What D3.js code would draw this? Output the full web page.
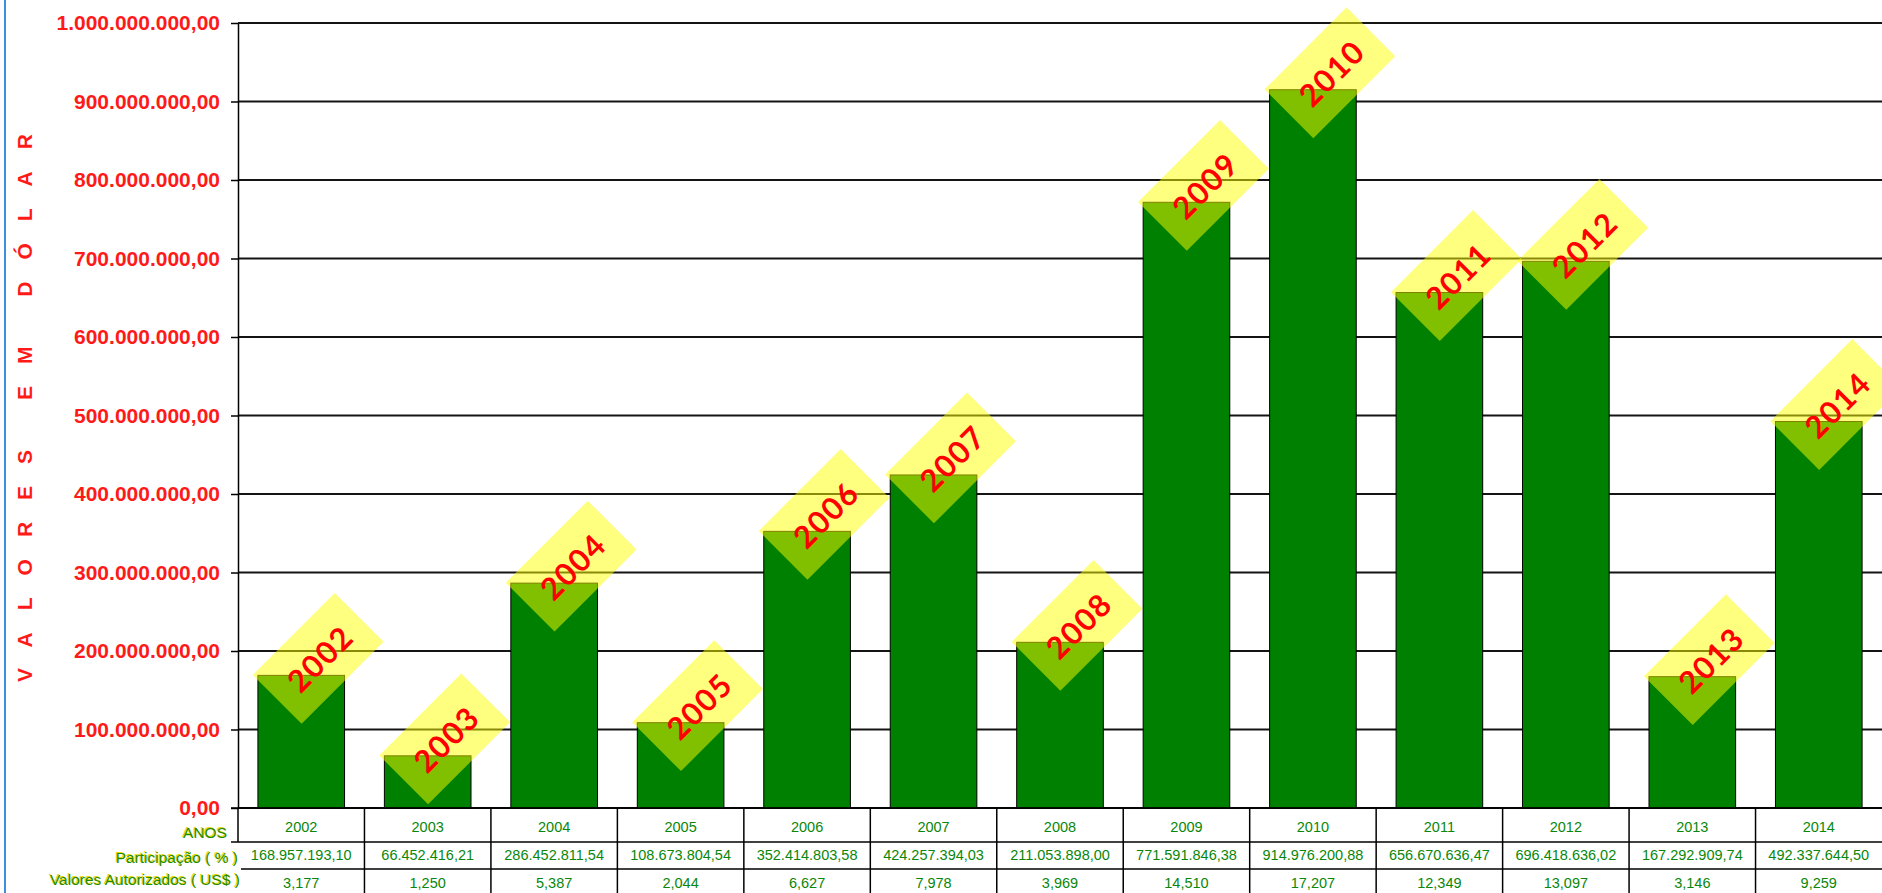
<!DOCTYPE html>
<html>
<head>
<meta charset="utf-8">
<script src="https://cdn.jsdelivr.net/npm/d3@7"></script>
<style>
  body { margin: 0; background: #fff; }
  svg { display: block; }
</style>
</head>
<body>
<div id="chart"></div>
<script>
const width = 1882, height = 893;

// dados
const years = ["2002", "2003", "2004", "2005", "2006", "2007", "2008", "2009", "2010", "2011", "2012", "2013", "2014"];
const valores = [168957193.10, 66452416.21, 286452811.54, 108673804.54, 352414803.58, 424257394.03,
                 211053898.00, 771591846.38, 914976200.88, 656670636.47, 696418636.02, 167292909.74, 492337644.50];
const participacao = [3.177, 1.250, 5.387, 2.044, 6.627, 7.978, 3.969, 14.510, 17.207, 12.349, 13.097, 3.146, 9.259];
const yTicks = [0, 100000000, 200000000, 300000000, 400000000, 500000000, 600000000, 700000000, 800000000, 900000000, 1000000000];
const rowLabels = ["ANOS", "Participação  ( % )", "Valores Autorizados  ( US$ )"];
const yTitle = "VALORES EM DÓLAR";

const ptBR = d3.formatLocale({decimal: ",", thousands: ".", grouping: [3], currency: ["US$ ", ""]});
const fmtMoney = ptBR.format(",.2f");
const fmtPct = ptBR.format(".3f");

const plot = {left: 238, right: 1882, top: 23, bottom: 808};
const rowY = [808, 842, 869, 896];

const svg = d3.select("#chart").append("svg")
    .attr("width", width)
    .attr("height", height)
    .style("background-color", "#fff");

const x = d3.scaleBand()
    .domain(years)
    .range([plot.left, plot.right])
    .paddingInner(0.315)
    .paddingOuter(0.1575);

const y = d3.scaleLinear()
    .domain([0, 1000000000])
    .range([plot.bottom, plot.top]);

// borda azul
svg.append("line")
    .attr("x1", 5).attr("x2", 5).attr("y1", 0).attr("y2", height)
    .attr("stroke", "#3d8ee0").attr("stroke-width", 2);

// grade
svg.append("g").selectAll("line")
    .data(yTicks)
    .join("line")
        .attr("x1", plot.left).attr("x2", plot.right)
        .attr("y1", d => y(d)).attr("y2", d => y(d))
        .attr("stroke", "#141414")
        .attr("stroke-width", 2);

// eixo y
const yAxis = svg.append("g")
    .attr("transform", "translate(" + plot.left + ",0)")
    .call(d3.axisLeft(y).tickValues(yTicks).tickFormat(fmtMoney).tickSize(7).tickSizeOuter(0).tickPadding(11));
yAxis.select(".domain").attr("stroke", "#000").attr("stroke-width", 1.5);
yAxis.selectAll(".tick line").attr("stroke", "#000").attr("stroke-width", 1.5);
yAxis.selectAll(".tick text")
    .attr("fill", "#ff1a1a")
    .style("font", "bold 21px 'Liberation Sans', Arial, sans-serif");

// título do eixo y
svg.append("text")
    .attr("transform", "translate(32," + 397 + ") rotate(-90)")
    .attr("text-anchor", "middle")
    .attr("fill", "#ff1a1a")
    .style("font", "bold 21px 'Liberation Sans', Arial, sans-serif")
    .style("letter-spacing", "22px")
    .text(yTitle);

// barras
svg.append("g").selectAll("rect")
    .data(valores)
    .join("rect")
        .attr("x", (d, i) => x(years[i]))
        .attr("y", d => y(d))
        .attr("width", x.bandwidth())
        .attr("height", d => y(0) - y(d))
        .attr("fill", "#008000")
        .attr("stroke", "#000")
        .attr("stroke-width", 1);

// rótulos dos anos
const lab = svg.append("g").selectAll("g")
    .data(valores)
    .join("g")
        .attr("transform", (d, i) => "translate(" + (x(years[i]) + x.bandwidth() / 2 + 17) + "," + (y(d) - 17) + ") rotate(-45)");
lab.append("rect")
    .attr("x", -58).attr("y", -34.5)
    .attr("width", 116).attr("height", 69)
    .attr("fill", "#ffff00")
    .attr("fill-opacity", 0.5);
lab.append("text")
    .attr("text-anchor", "middle")
    .attr("dominant-baseline", "central")
    .attr("dx", 1)
    .attr("dy", 1)
    .attr("fill", "#ff0000")
    .style("font", "bold 31px Lato, 'Open Sans', sans-serif")
    .style("letter-spacing", "1.5px")
    .text((d, i) => years[i]);

// tabela
const table = svg.append("g");
table.append("line")
    .attr("x1", 231).attr("x2", plot.right).attr("y1", rowY[1]).attr("y2", rowY[1])
    .attr("stroke", "#000").attr("stroke-width", 1.5);
table.append("line")
    .attr("x1", 241).attr("x2", plot.right).attr("y1", rowY[2]).attr("y2", rowY[2])
    .attr("stroke", "#000").attr("stroke-width", 1.5);
table.append("line")
    .attr("x1", 231).attr("x2", plot.right).attr("y1", rowY[0]).attr("y2", rowY[0])
    .attr("stroke", "#000").attr("stroke-width", 1.5);
table.append("line")
    .attr("x1", plot.left).attr("x2", plot.left).attr("y1", rowY[0]).attr("y2", rowY[1])
    .attr("stroke", "#000").attr("stroke-width", 1.5);
table.selectAll(".sep")
    .data(years.slice(1))
    .join("line")
        .attr("class", "sep")
        .attr("x1", d => x(d) - x.step() * x.paddingInner() / 2)
        .attr("x2", d => x(d) - x.step() * x.paddingInner() / 2)
        .attr("y1", rowY[0]).attr("y2", height)
        .attr("stroke", "#000").attr("stroke-width", 1.5);

const cellFont = "14.5px 'Liberation Sans', Arial, sans-serif";
const rows = [years, valores.map(fmtMoney), participacao.map(fmtPct)];
const baselines = [832, 860, 888];
rows.forEach((r, k) => {
    table.append("g").selectAll("text")
        .data(r)
        .join("text")
            .attr("x", (d, i) => x(years[i]) + x.bandwidth() / 2)
            .attr("y", baselines[k])
            .attr("text-anchor", "middle")
            .attr("fill", "#0a870a")
            .style("font", cellFont)
            .text(d => d);
});

// rótulos das linhas
const labX = [227, 238, 240];
const labBase = [838, 863, 885];
const rl = svg.append("g");
rl.selectAll(".sh")
    .data(rowLabels)
    .join("text")
        .attr("class", "sh")
        .attr("x", (d, i) => labX[i] - 1)
        .attr("y", (d, i) => labBase[i] - 0.8)
        .attr("text-anchor", "end")
        .attr("fill", "#e6d800")
        .style("font", "15.5px 'Liberation Sans', Arial, sans-serif")
        .text(d => d);
rl.selectAll(".fg")
    .data(rowLabels)
    .join("text")
        .attr("class", "fg")
        .attr("x", (d, i) => labX[i])
        .attr("y", (d, i) => labBase[i])
        .attr("text-anchor", "end")
        .attr("fill", "#1f8a00")
        .style("font", "15.5px 'Liberation Sans', Arial, sans-serif")
        .text(d => d);
</script>
</body>
</html>
